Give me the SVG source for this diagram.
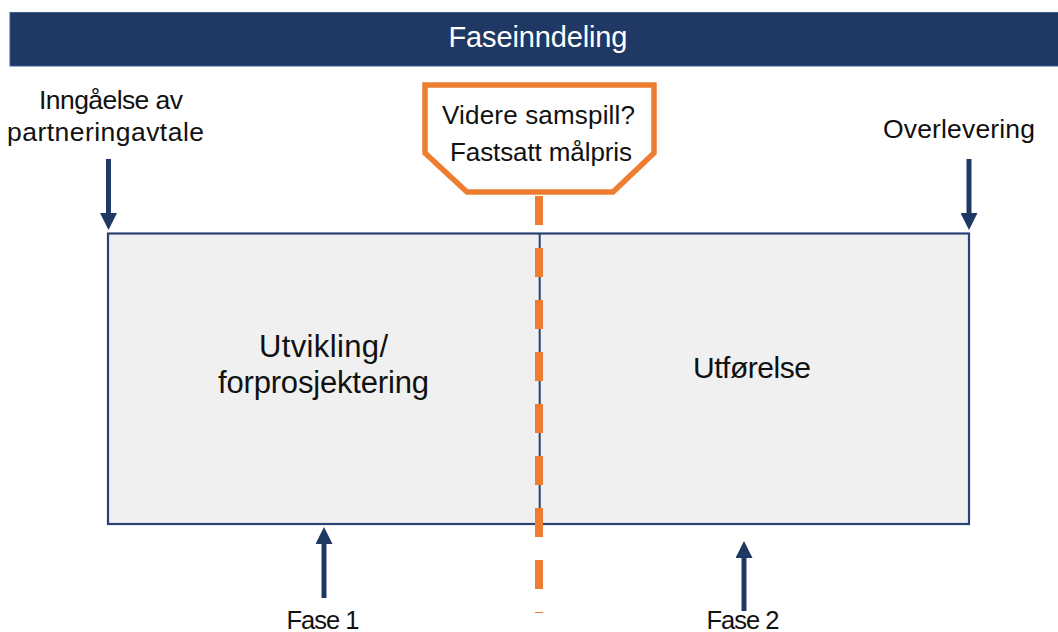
<svg xmlns="http://www.w3.org/2000/svg" width="1058" height="632" viewBox="0 0 1058 632">
  <style>
    .lbl { font-family: "Liberation Sans", Arial, sans-serif; fill: #111; text-anchor: middle; }
    .hdr { font-family: "Liberation Sans", Arial, sans-serif; fill: #fff; text-anchor: middle; }
    .arrow { stroke: #1F3864; stroke-width: 5; fill: none; }
  </style>
  <defs>
    <marker id="head" markerUnits="userSpaceOnUse" markerWidth="17" markerHeight="17" refX="0" refY="8" orient="auto" viewBox="0 0 16 16">
      <path d="M0,0 L16,8 L0,16 z" fill="#1F3864"/>
    </marker>
  </defs>
  <rect width="1058" height="632" fill="#ffffff"/>

  <g id="header">
    <rect x="10" y="12.5" width="1049" height="53.5" fill="#1F3864" stroke="#3D5C91" stroke-width="1"/>
    <text class="hdr" x="538" y="47" font-size="29" textLength="179">Faseinndeling</text>
  </g>

  <g id="phase-box">
    <rect x="108" y="233.5" width="861" height="290.5" fill="#F0F0F0" stroke="#2A4373" stroke-width="2.2"/>
    <line x1="539.7" y1="233.5" x2="539.7" y2="524" stroke="#2A4373" stroke-width="2"/>
  </g>

  <g id="label-utvikling">
    <text class="lbl" x="323.5" y="356.7" font-size="31" textLength="129">Utvikling/</text>
    <text class="lbl" x="323.5" y="392.7" font-size="31" textLength="211">forprosjektering</text>
  </g>

  <g id="label-utforelse">
    <text class="lbl" x="752" y="378" font-size="30" textLength="118">Utførelse</text>
  </g>

  <g id="label-inngaelse">
    <text class="lbl" x="111" y="109" font-size="26.5" textLength="144">Inngåelse av</text>
    <text class="lbl" x="105.5" y="141" font-size="26.5" textLength="197">partneringavtale</text>
  </g>

  <g id="label-overlevering">
    <text class="lbl" x="959" y="138" font-size="26.5" textLength="152">Overlevering</text>
  </g>

  <g id="label-fase1">
    <text class="lbl" x="323" y="629" font-size="25.5" textLength="73">Fase 1</text>
  </g>

  <g id="label-fase2">
    <text class="lbl" x="743" y="629" font-size="25.5" textLength="73">Fase 2</text>
  </g>

  <g id="connectors">
    <line x1="539" y1="196" x2="539" y2="613" stroke="#ED7D31" stroke-width="8" stroke-dasharray="29 23"/>
    <line class="arrow" x1="108.5" y1="159" x2="108.5" y2="213" marker-end="url(#head)"/>
    <line class="arrow" x1="969" y1="159" x2="969" y2="213" marker-end="url(#head)"/>
    <line class="arrow" x1="324" y1="598" x2="324" y2="544" marker-end="url(#head)"/>
    <line class="arrow" x1="744" y1="611" x2="744" y2="558" marker-end="url(#head)"/>
  </g>

  <g id="callout">
    <polygon points="425,85 654,85 654,153 613,192 467,192 425,153" fill="#ffffff" stroke="#ED7D31" stroke-width="5.5"/>
    <text class="lbl" x="538.5" y="124" font-size="26" textLength="193">Videre samspill?</text>
    <text class="lbl" x="541" y="160.5" font-size="26" textLength="182">Fastsatt målpris</text>
  </g>
</svg>
